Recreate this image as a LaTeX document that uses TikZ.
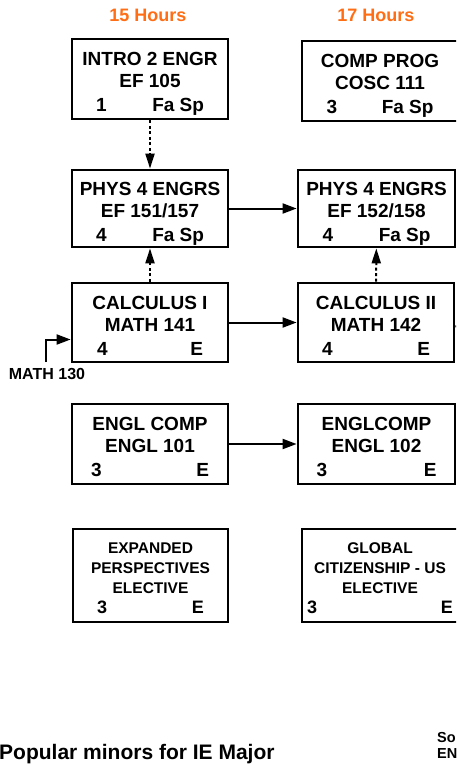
\documentclass[tikz,border=0pt]{standalone}
\usepackage{fontspec}
\setmainfont{Liberation Sans}
\usetikzlibrary{arrows.meta}
\definecolor{hrsorange}{RGB}{255,110,20}
\tikzset{course/.style = {draw, line width=2.8pt, inner sep=0pt, align=center,
                          minimum width=156pt, minimum height=80pt,
                          font=\bfseries\fontsize{19}{22}\selectfont}}
\tikzset{coursesm/.style = {course, minimum height=93pt,
                            font=\bfseries\fontsize{15.5}{20}\selectfont}}
\tikzset{hours/.style = {text=hrsorange, font=\bfseries\fontsize{18}{22}\selectfont}}
\tikzset{req/.style = {line width=2pt, -{Triangle[length=14pt,width=10pt]}}}
\tikzset{prereq/.style = {line width=2pt, dash pattern=on 3pt off 2.5pt,
                          -{Triangle[length=15pt,width=9pt]}}}
% first line pushed down, last line with fixed depth
\newcommand{\toprule}[1]{\rule{0pt}{#1}}
\newcommand{\credline}[3]{\makebox[#1]{\rule[-4pt]{0pt}{4pt}#2\hfill #3}}
\newcommand{\bigline}[3]{{\fontsize{18}{20}\selectfont\makebox[#1]{#2\hfill #3}}}

\begin{document}
\begin{tikzpicture}[x=1pt,y=-1pt]
  \useasboundingbox (0,0) rectangle (456,768);
  \clip (0,0) rectangle (456,768);
  % semester headers
  \node[hours] (hrs1) at (148,15) {15 Hours};
  \node[hours] (hrs2) at (376,15) {17 Hours};
  % first semester
  \node[course] (intro) at (150,79)
    {\toprule{23pt}INTRO 2 ENGR\\EF 105\\[2pt]\credline{108pt}{1}{Fa Sp}};
  \node[course, minimum height=77pt] (phys1) at (150,208.5)
    {\toprule{23pt}PHYS 4 ENGRS\\EF 151/157\\[2pt]\credline{108pt}{4}{Fa Sp}};
  \node[course, minimum height=79pt] (calc1) at (150,322.5)
    {\toprule{23pt}CALCULUS I\\MATH 141\\[2pt]\credline{106pt}{4}{E}};
  \node[course] (engl1) at (150,444)
    {\toprule{23pt}ENGL COMP\\ENGL 101\\[2pt]\credline{118pt}{3}{E}};
  \node[coursesm, minimum width=155pt] (expand) at (150.5,575.5)
    {\toprule{16pt}EXPANDED\\PERSPECTIVES\\ELECTIVE\\\bigline{107pt}{3}{E}};
  % second semester
  \node[course] (comp) at (380,81)
    {\toprule{23pt}COMP PROG\\COSC 111\\[2pt]\credline{107pt}{3}{Fa Sp}};
  \node[course, minimum width=157pt, minimum height=77pt] (phys2) at (376.5,208.5)
    {\toprule{23pt}PHYS 4 ENGRS\\EF 152/158\\[2pt]\credline{108pt}{4}{Fa Sp}};
  \node[course, minimum height=79pt] (calc2) at (376,322.5)
    {\toprule{23pt}CALCULUS II\\MATH 142\\[2pt]\credline{108pt}{4}{E}};
  \node[course, minimum width=157pt] (engl2) at (376.5,444)
    {\toprule{23pt}ENGLCOMP\\ENGL 102\\[2pt]\credline{120pt}{3}{E}};
  \node[coursesm] (global) at (380,575.5)
    {\toprule{16pt}GLOBAL\\CITIZENSHIP - US\\ELECTIVE\\\bigline{146pt}{3}{E}};
  % outside labels
  \node[font=\bfseries\fontsize{16}{18}\selectfont] (math130) at (47,374) {MATH 130};
  \coordinate (m130) at (46,362);
  \coordinate (calc2out) at (470,327);
  \node[anchor=base west, inner sep=0pt, font=\bfseries\fontsize{21}{24}\selectfont]
    (minors) at (-1,759) {Popular minors for IE Major};
  \node[anchor=north west, inner sep=0pt, align=left,
        font=\bfseries\fontsize{14.5}{16}\selectfont] (soen) at (437,732) {So\\EN};
  % connectors
  \draw[prereq] (intro) -- (phys1);
  \draw[prereq] (calc1) -- (phys1);
  \draw[prereq] (calc2) -- (phys2);
  \draw[req] (phys1) -- (phys2);
  \draw[req] (calc1) -- (calc2);
  \draw[req] (engl1) -- (engl2);
  \draw[req] (m130) |- ([yshift=-17pt]calc1.west);
  \draw[line width=2pt] (calc2) -- (calc2out);
\end{tikzpicture}
\end{document}
